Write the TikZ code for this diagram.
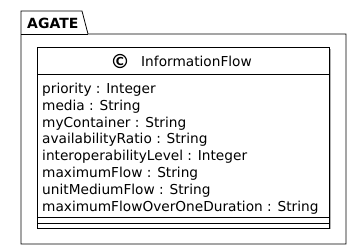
\documentclass[tikz,border=0pt]{standalone}
\usepackage{fontspec}
\setmainfont{DejaVu Sans}
\usetikzlibrary{positioning}

\begin{document}
\begin{tikzpicture}[
  x=1pt, y=-1pt,
  every node/.style={font=\fontsize{13.7}{17}\selectfont, inner sep=0pt},
  frame/.style={draw=black, line width=0.8pt},
  classbox/.style={draw=black, line width=0.9pt, fill=white, anchor=north west,
                   minimum width=292pt, minimum height=181pt},
  attr/.style={anchor=base west},
]
  \useasboundingbox (0,0) rectangle (361,249);

  % Package AGATE: tab and body
  \draw[frame] (21,34) -- (21,11) -- (82,11) -- (88,34) -- (346,34)
               -- (346,244) -- (21,244) -- cycle;
  \draw[frame] (21,34) -- (88,34);
  \node[anchor=base west, font=\fontsize{14}{17}\selectfont\bfseries] (pkg) at (27,28) {AGATE};

  % Class InformationFlow with its shadow
  \fill[black!30] (39,49) rectangle (331,229);
  \node[classbox] (cls) at (37,47) {};
  \draw[line width=0.9pt] (cls.west |- 0,74) -- (cls.east |- 0,74);
  \draw[line width=0.9pt] (cls.west |- 0,217) -- (cls.east |- 0,217);
  \draw[line width=0.9pt] (cls.west |- 0,223) -- (cls.east |- 0,223);

  % Header: spot with C and class name
  \node[circle, draw=black, line width=1.2pt, minimum size=13pt,
        font=\fontsize{11}{12}\selectfont\bfseries] (spot) at (120,61) {C};
  \node[anchor=base west] (name) at (141,66) {InformationFlow};

  % Attributes
  \node[attr] (a1) at (42,93)    {priority : Integer};
  \node[attr] (a2) at (42,110)   {media : String};
  \node[attr] (a3) at (42,127)   {myContainer : String};
  \node[attr] (a4) at (42,143.8) {availabilityRatio : String};
  \node[attr] (a5) at (42,160.6) {interoperabilityLevel : Integer};
  \node[attr] (a6) at (42,177.5) {maximumFlow : String};
  \node[attr] (a7) at (42,194.4) {unitMediumFlow : String};
  \node[attr] (a8) at (42,211.2) {maximumFlowOverOneDuration : String};
\end{tikzpicture}
\end{document}
